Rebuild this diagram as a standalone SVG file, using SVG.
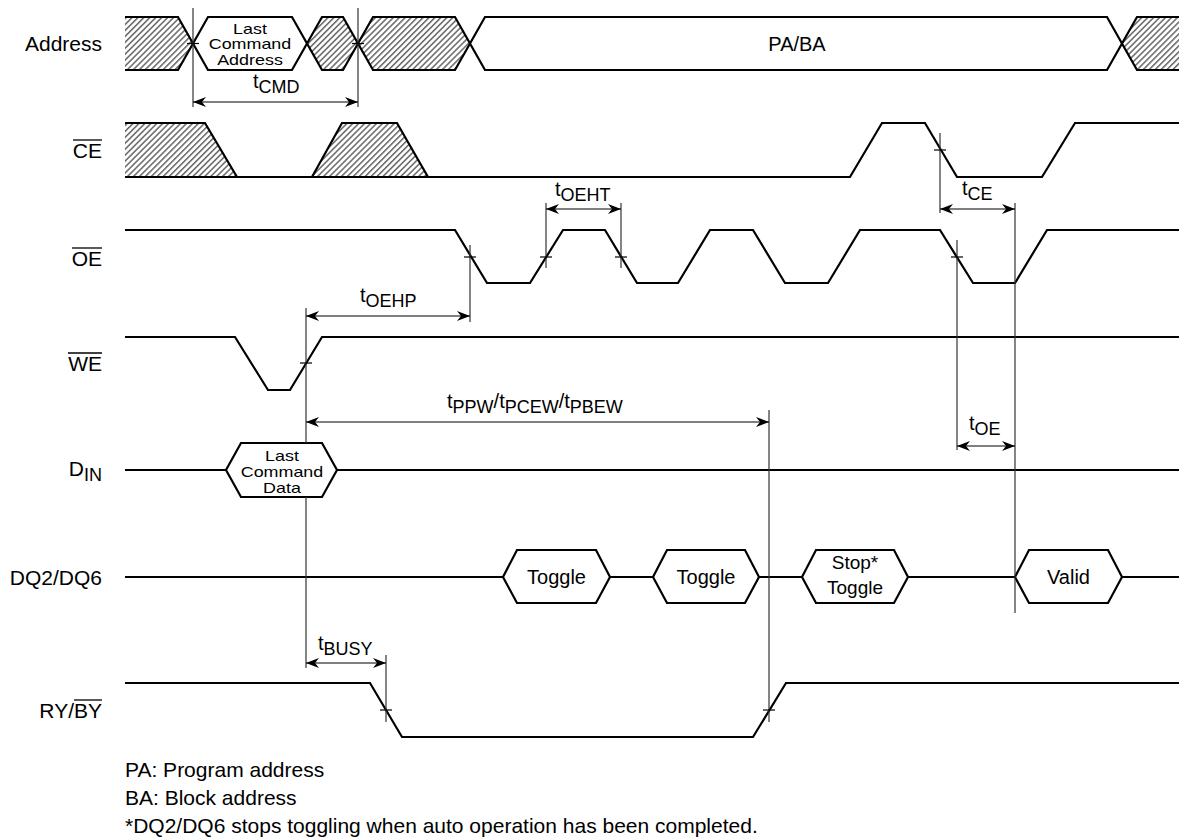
<svg xmlns="http://www.w3.org/2000/svg" width="1180" height="838" viewBox="0 0 1180 838">
<defs>
<style>
.sig{fill:none;stroke:#000;stroke-width:2.2;stroke-linejoin:miter}
.hatch{fill:url(#hatch);stroke:none}
.box{fill:#fff;stroke:#000;stroke-width:2.2}
.hbox{fill:url(#hatch);stroke:#000;stroke-width:2.2}
.ref{stroke:#333;stroke-width:1.2;fill:none}
.tick{stroke:#000;stroke-width:1.2}
.dim{stroke:#000;stroke-width:1.2;fill:none;marker-start:url(#arr);marker-end:url(#arr)}
text{font-family:"Liberation Sans",Arial,sans-serif;fill:#000}
.lbl{font-size:21px;text-anchor:end}
.t{font-size:20px}
.sub{font-size:18px}
.hx{font-size:14px;text-anchor:middle}
.hv{font-size:20px;text-anchor:middle}
.note{font-size:21px}
.ol{stroke:#000;stroke-width:1.3}
</style>
<pattern id="hatch" width="4.2" height="4.2" patternUnits="userSpaceOnUse" patternTransform="rotate(45)">
<rect width="4.2" height="4.2" fill="#fff"/>
<rect width="1.5" height="4.2" fill="#666"/>
</pattern>
<marker id="arr" markerUnits="userSpaceOnUse" markerWidth="14" markerHeight="11" refX="13" refY="5" orient="auto-start-reverse">
<path d="M0,0 L13,5 L0,10 L4,5 Z" fill="#000"/>
</marker>
</defs>
<rect width="1180" height="838" fill="#fff"/>

<g id="labels">
<text class="lbl" x="102" y="51">Address</text>
<text class="lbl" x="102" y="158">CE</text>
<line class="ol" x1="73" y1="140" x2="102" y2="140"/>
<text class="lbl" x="102" y="266">OE</text>
<line class="ol" x1="72" y1="248" x2="102" y2="248"/>
<text class="lbl" x="102" y="371">WE</text>
<line class="ol" x1="68" y1="353" x2="102" y2="353"/>
<text class="lbl" x="102" y="476">D<tspan class="sub" dy="5">IN</tspan></text>
<text class="lbl" x="102" y="585">DQ2/DQ6</text>
<text class="lbl" x="102" y="718">RY/BY</text>
<line class="ol" x1="74" y1="700" x2="102" y2="700"/>
</g>

<g id="address">
<polygon class="hatch" points="125,17 178,17 193,43.5 178,70 125,70"/>
<path class="sig" d="M125,17 H178 L193,43.5 L178,70 H125"/>
<polygon class="box" points="193,43.5 208,17 292,17 307,43.5 292,70 208,70"/>
<polygon class="hbox" points="307,43.5 322,17 343,17 358,43.5 343,70 322,70"/>
<polygon class="hbox" points="358,43.5 373,17 455,17 470,43.5 455,70 373,70"/>
<polygon class="box" points="470,43.5 485,17 1107,17 1122,43.5 1107,70 485,70"/>
<polygon class="hatch" points="1122,43.5 1137,17 1179,17 1179,70 1137,70"/>
<path class="sig" d="M1179,17 H1137 L1122,43.5 L1137,70 H1179"/>
<g transform="translate(250,0) scale(1.28,1)">
<text class="hx" x="0" y="33.8">Last</text>
<text class="hx" x="0" y="49.5">Command</text>
<text class="hx" x="0" y="65.2">Address</text>
</g>
<text class="hv" x="797" y="51">PA/BA</text>
</g>

<g id="ce">
<polygon class="hatch" points="125,123 205,123 237,177 125,177"/>
<polygon class="hatch" points="312,177 342,123 397,123 428,177"/>
<path class="sig" d="M125,123 H205 L237,177"/>
<path class="sig" d="M312,177 L342,123 H397 L428,177"/>
<path class="sig" d="M125,177 H850 L882,123 H925 L957,177 H1042 L1075,123 H1179"/>
</g>

<g id="oe">
<path class="sig" d="M125,230 H455 L487,283 H530 L563,230 H605 L637,283 H678 L710,230 H753 L785,283 H828 L860,230 H940 L973,283 H1015 L1047,230 H1179"/>
</g>

<g id="we">
<path class="sig" d="M125,337 H235 L268,390 H290 L322,337 H1179"/>
</g>

<g id="din">
<path class="sig" d="M125,470 H226 M337,470 H1179"/>
<polygon class="box" points="226,470 241,443 322,443 337,470 322,497 241,497"/>
<g transform="translate(282,0) scale(1.28,1)">
<text class="hx" x="0" y="461.5">Last</text>
<text class="hx" x="0" y="477.2">Command</text>
<text class="hx" x="0" y="492.9">Data</text>
</g>
</g>

<g id="dq">
<path class="sig" d="M125,577 H503 M610,577 H653 M759,577 H802 M908,577 H1015 M1122,577 H1179"/>
<polygon class="box" points="503,577 517,550 596,550 610,577 596,603 517,603"/>
<polygon class="box" points="653,577 667,550 745,550 759,577 745,603 667,603"/>
<polygon class="box" points="802,577 816,550 894,550 908,577 894,603 816,603"/>
<polygon class="box" points="1015,577 1029,550 1108,550 1122,577 1108,603 1029,603"/>
<text class="hv" x="556.5" y="584">Toggle</text>
<text class="hv" x="706" y="584">Toggle</text>
<text class="hv" x="855" y="569" style="font-size:19px">Stop*</text>
<text class="hv" x="855" y="594" style="font-size:19px">Toggle</text>
<text class="hv" x="1068.5" y="584">Valid</text>
</g>

<g id="ryby">
<path class="sig" d="M125,683 H370 L402,737 H753 L786,683 H1179"/>
</g>

<g id="connectors">
<line class="ref" x1="193" y1="8" x2="193" y2="107"/>
<line class="ref" x1="358" y1="8" x2="358" y2="107"/>
<line class="ref" x1="940" y1="133" x2="940" y2="213"/>
<line class="ref" x1="1015" y1="203" x2="1015" y2="613"/>
<line class="ref" x1="957" y1="240" x2="957" y2="450"/>
<line class="ref" x1="546" y1="203" x2="546" y2="268"/>
<line class="ref" x1="621" y1="203" x2="621" y2="268"/>
<line class="ref" x1="470" y1="245" x2="470" y2="322"/>
<line class="ref" x1="306" y1="308" x2="306" y2="443"/>
<line class="ref" x1="306" y1="497" x2="306" y2="668"/>
<line class="ref" x1="769" y1="410" x2="769" y2="722"/>
<line class="ref" x1="386" y1="655" x2="386" y2="722"/>
<g class="ticks">
<line class="tick" x1="187" y1="43.5" x2="199" y2="43.5"/>
<line class="tick" x1="352" y1="43.5" x2="364" y2="43.5"/>
<line class="tick" x1="934" y1="150" x2="946" y2="150"/>
<line class="tick" x1="951" y1="257" x2="963" y2="257"/>
<line class="tick" x1="464" y1="257" x2="476" y2="257"/>
<line class="tick" x1="540" y1="257" x2="552" y2="257"/>
<line class="tick" x1="615" y1="257" x2="627" y2="257"/>
<line class="tick" x1="300" y1="363" x2="312" y2="363"/>
<line class="tick" x1="380" y1="710" x2="392" y2="710"/>
<line class="tick" x1="763" y1="710" x2="775" y2="710"/>
</g>
<line class="dim" x1="193" y1="102" x2="358" y2="102"/>
<line class="dim" x1="940" y1="209" x2="1015" y2="209"/>
<line class="dim" x1="546" y1="209" x2="621" y2="209"/>
<line class="dim" x1="306" y1="316" x2="470" y2="316"/>
<line class="dim" x1="306" y1="422" x2="769" y2="422"/>
<line class="dim" x1="957" y1="446" x2="1015" y2="446"/>
<line class="dim" x1="306" y1="663" x2="386" y2="663"/>
<text class="t" x="253" y="88">t<tspan class="sub" dy="5">CMD</tspan></text>
<text class="t" x="962" y="195">t<tspan class="sub" dy="5">CE</tspan></text>
<text class="t" x="555" y="196">t<tspan class="sub" dy="5">OEHT</tspan></text>
<text class="t" x="360" y="302">t<tspan class="sub" dy="5">OEHP</tspan></text>
<text class="t" x="447" y="408">t<tspan class="sub" dy="5">PPW</tspan><tspan dy="-5">/t</tspan><tspan class="sub" dy="5">PCEW</tspan><tspan dy="-5">/t</tspan><tspan class="sub" dy="5">PBEW</tspan></text>
<text class="t" x="969" y="430">t<tspan class="sub" dy="5">OE</tspan></text>
<text class="t" x="318" y="650">t<tspan class="sub" dy="5">BUSY</tspan></text>
</g>

<g id="notes">
<text class="note" x="125" y="777">PA: Program address</text>
<text class="note" x="125" y="805">BA: Block address</text>
<text class="note" x="125" y="833">*DQ2/DQ6 stops toggling when auto operation has been completed.</text>
</g>
</svg>
